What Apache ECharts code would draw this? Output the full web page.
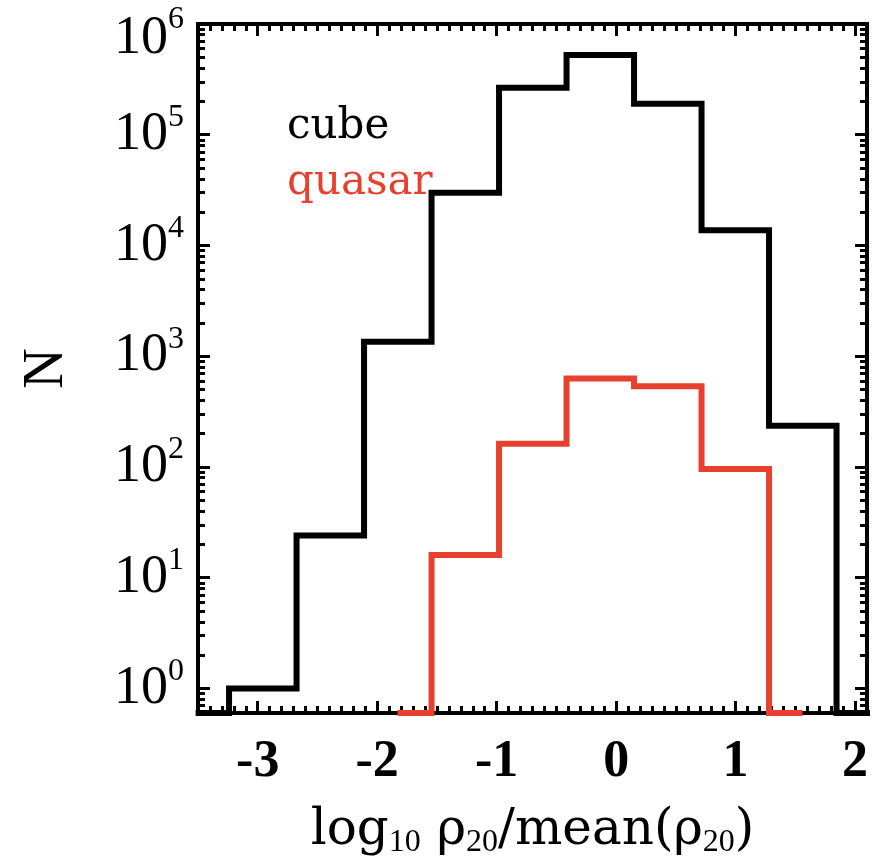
<!DOCTYPE html>
<html>
<head>
<meta charset="utf-8">
<script src="https://cdn.jsdelivr.net/npm/echarts@6/dist/echarts.min.js"></script>
<style>
html, body { margin: 0; padding: 0; background: #fff; }
#density-hist { width: 879px; height: 861px; }
</style>
</head>
<body>
<div id="density-hist"></div>
<script>
// bin centres in log10 rho20/mean(rho20)
var binCenters = [-3.52, -2.96, -2.39, -1.83, -1.26, -0.70, -0.13, 0.43, 1.00, 1.56, 2.13];
// counts per bin (0 = empty bin, null = not plotted)
var cubeCounts = [0, 1, 24, 1350, 30000, 265000, 525000, 190000, 13700, 235, 0];
var quasarCounts = [null, null, null, 0, 16, 162, 630, 535, 96, 0, null];

var xTickValues = [-3, -2, -1, 0, 1, 2];
var yTickValues = [1, 10, 100, 1000, 10000, 100000, 1000000];

var X_MIN = -3.5, X_MAX = 2.1;
var Y_MIN = 0.6, Y_MAX = 1e6;
var FONT = "'Liberation Serif', 'DejaVu Serif', serif";
var WIDE_FONT = "'DejaVu Serif', 'Liberation Serif', serif";
var RED = "#e8402f";

// minor ticks every 0.1 on x, 2..9 per decade on y
var xMinor = [];
for (var i = -35; i <= 21; i++) {
  if (i % 10 !== 0) xMinor.push(i / 10);
}
var yMinor = [0.7, 0.8, 0.9];
for (var d = 0; d < 6; d++) {
  for (var m = 2; m <= 9; m++) yMinor.push(m * Math.pow(10, d));
}

// empty bins sit on the bottom of the plot
function toPoints(counts) {
  var arr = [];
  counts.forEach(function (c, idx) {
    if (c === null) return;
    arr.push([binCenters[idx], c === 0 ? Y_MIN : c]);
  });
  return arr;
}

function yLabel(v) {
  var e = Math.round(Math.log10(v));
  if (e === 6) return "{b6|10}{s6|" + e + "}";
  return "{b|10}{s|" + e + "}";
}

function xAxisOf(pos, major, withLabel) {
  return {
    type: "value", position: pos, min: X_MIN, max: X_MAX,
    axisLine: { show: false, onZero: false },
    splitLine: { show: false },
    axisTick: {
      show: true, inside: true, length: major ? 12 : 7,
      customValues: major ? xTickValues : xMinor,
      lineStyle: { color: "#000", width: 3 }
    },
    axisLabel: withLabel ? {
      show: true, customValues: xTickValues, margin: 24,
      fontFamily: FONT, fontSize: 52, fontWeight: "bold", color: "#000"
    } : { show: false }
  };
}

function yAxisOf(pos, major, withLabel) {
  return {
    type: "log", logBase: 10, position: pos, min: Y_MIN, max: Y_MAX,
    axisLine: { show: false, onZero: false },
    splitLine: { show: false },
    axisTick: {
      show: true, inside: true, length: major ? 12 : 7,
      customValues: major ? yTickValues : yMinor,
      lineStyle: { color: "#000", width: 3 }
    },
    axisLabel: withLabel ? {
      show: true, customValues: yTickValues, margin: 14,
      formatter: yLabel, color: "#000",
      rich: {
        b: { fontFamily: FONT, fontSize: 54, color: "#000" },
        s: { fontFamily: FONT, fontSize: 32, color: "#000", padding: [0, 0, 34, 0] },
        b6: { fontFamily: FONT, fontSize: 54, color: "#000", padding: [30, 0, 0, 0] },
        s6: { fontFamily: FONT, fontSize: 32, color: "#000", padding: [0, 0, 8, 0] }
      }
    } : { show: false }
  };
}

var xAxes = [
  xAxisOf("bottom", true, true),
  xAxisOf("bottom", false, false),
  xAxisOf("top", true, false),
  xAxisOf("top", false, false)
];
xAxes[0].name = "{m|log}{s|10}{m| ρ}{s|20}{m|/mean(ρ}{s|20}{m|)}";
xAxes[0].nameLocation = "middle";
xAxes[0].nameGap = 90;
xAxes[0].nameMoveOverlap = false;
xAxes[0].nameTextStyle = {
  fontFamily: WIDE_FONT, fontSize: 50, color: "#000",
  rich: {
    m: { fontFamily: WIDE_FONT, fontSize: 50, color: "#000" },
    s: { fontFamily: FONT, fontSize: 32, color: "#000", padding: [24, 0, 0, 0] }
  }
};

var yAxes = [
  yAxisOf("left", true, true),
  yAxisOf("left", false, false),
  yAxisOf("right", true, false),
  yAxisOf("right", false, false)
];
yAxes[0].name = "N";
yAxes[0].nameLocation = "middle";
yAxes[0].nameGap = 123;
yAxes[0].nameRotate = 90;
yAxes[0].nameMoveOverlap = false;
yAxes[0].nameTextStyle = { fontFamily: FONT, fontSize: 56, color: "#000" };

var option = {
  animation: false,
  backgroundColor: "#fff",
  grid: {
    left: 198, right: 12, top: 24, bottom: 148,
    show: true, borderColor: "#000", borderWidth: 4,
    backgroundColor: "transparent",
    containLabel: false, outerBoundsMode: "none"
  },
  legend: {
    orient: "vertical", left: 277, top: 94,
    icon: "none", itemWidth: 0, itemHeight: 10, itemGap: 0,
    selectedMode: false,
    textStyle: { fontFamily: WIDE_FONT, fontSize: 42, lineHeight: 56 },
    data: [
      { name: "cube", textStyle: { color: "#000" } },
      { name: "quasar", textStyle: { color: RED } }
    ]
  },
  xAxis: xAxes,
  yAxis: yAxes,
  series: [
    {
      name: "cube", type: "line", step: "middle",
      xAxisIndex: 0, yAxisIndex: 0,
      data: toPoints(cubeCounts),
      symbol: "none", clip: true,
      lineStyle: { color: "#000", width: 6, join: "miter" },
      itemStyle: { color: "#000" }
    },
    {
      name: "quasar", type: "line", step: "middle",
      xAxisIndex: 0, yAxisIndex: 0,
      data: toPoints(quasarCounts),
      symbol: "none", clip: true,
      lineStyle: { color: RED, width: 6, join: "miter" },
      itemStyle: { color: RED }
    }
  ]
};

var chart = echarts.init(document.getElementById("density-hist"));
chart.setOption(option);
</script>
</body>
</html>
